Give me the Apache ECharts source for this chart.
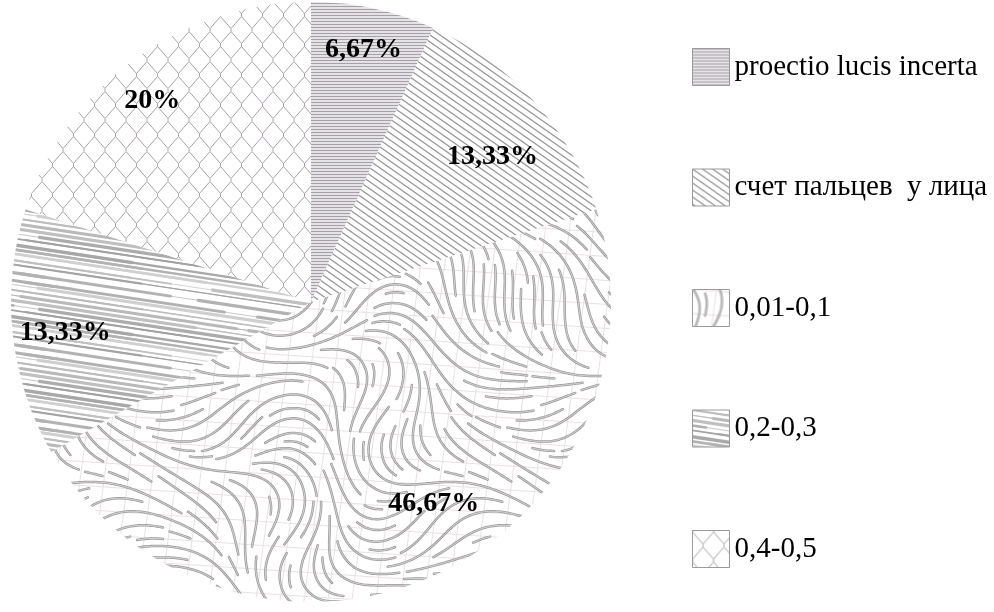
<!DOCTYPE html>
<html>
<head>
<meta charset="utf-8">
<script src="https://cdn.jsdelivr.net/npm/echarts@6/dist/echarts.min.js"></script>
<style>
  html, body { margin: 0; padding: 0; background: #fff; }
  #chart { width: 994px; height: 612px; }
</style>
</head>
<body>
<div id="chart"></div>
<script>
// Categories and their shares (percent)
const categories = ['proectio lucis incerta', 'счет пальцев  у лица', '0,01-0,1', '0,2-0,3', '0,4-0,5'];
const shares = [6.67, 13.33, 46.67, 13.33, 20];

const SERIF = '"Liberation Serif", "Times New Roman", "DejaVu Serif", serif';

// ---------- fill textures ----------
function makeCanvas(w, h) {
  const c = document.createElement('canvas');
  c.width = w; c.height = h;
  return c;
}
// deterministic hash in [0,1) used for texture variation
function hash(i) {
  const s = Math.sin(i * 12.9898 + 78.233) * 43758.5453;
  return s - Math.floor(s);
}

// fine horizontal ruling
function texHorizontal() {
  const c = makeCanvas(6, 3), g = c.getContext('2d');
  g.fillStyle = '#e6e3e7'; g.fillRect(0, 0, 6, 3);
  g.fillStyle = '#a6a1a8'; g.fillRect(0, 0, 6, 1);
  return c;
}

// diagonal hatching running down to the right
function texDiagonal() {
  const W = 20, H = 14, c = makeCanvas(W, H), g = c.getContext('2d');
  g.fillStyle = '#fff'; g.fillRect(0, 0, W, H);
  g.strokeStyle = '#979797'; g.lineWidth = 1.3;
  for (let o = -2 * W; o <= 2 * W; o += W / 2) {
    g.beginPath(); g.moveTo(o - W, -H); g.lineTo(o + 2 * W, 2 * H); g.stroke();
  }
  return c;
}

// swirling double-edged strokes over a faint grid
function texFlow() {
  const W = 360, H = 360, c = makeCanvas(W, H), g = c.getContext('2d');
  g.fillStyle = '#fff'; g.fillRect(0, 0, W, H);
  g.strokeStyle = '#e6dde2'; g.lineWidth = 0.9;
  for (let k = -16; k <= 32; k++) {
    g.beginPath(); g.moveTo(0, k * 24); g.lineTo(W, k * 24 + 24); g.stroke();
    g.beginPath(); g.moveTo(k * 24, 0); g.lineTo(k * 24 - 48, H); g.stroke();
  }
  const TAU = Math.PI * 2;
  const ang = (x, y) => 0.55
    + 0.85 * Math.sin(TAU * (x / W + y / H))
    + 0.55 * Math.cos(TAU * (x / W - 2 * y / H) + 1.3)
    + 0.35 * Math.sin(TAU * (2 * x / W + y / H) + 0.4);
  const cell = 4, gw = W / cell, gh = H / cell;
  const occ = new Int32Array(gw * gh).fill(-1);
  const idx = (x, y) => {
    const cx = ((Math.floor(x / cell) % gw) + gw) % gw;
    const cy = ((Math.floor(y / cell) % gh) + gh) % gh;
    return cy * gw + cx;
  };
  const free = (x, y) => {
    for (let dx = -1; dx <= 1; dx++) for (let dy = -1; dy <= 1; dy++) {
      if (occ[idx(x + dx * cell, y + dy * cell)] !== -1) return false;
    }
    return true;
  };
  const lines = [];
  for (let s = 0; s < 9000; s++) {
    const x0 = hash(s * 2 + 5) * W, y0 = hash(s * 2 + 6) * H;
    if (!free(x0, y0)) continue;
    const maxSteps = 20 + Math.floor(hash(s * 7 + 11) * 50);
    const trace = (dir) => {
      const pts = [];
      let x = x0, y = y0;
      for (let n = 0; n < maxSteps; n++) {
        const a = ang(x, y);
        x += dir * 2 * Math.cos(a); y += dir * 2 * Math.sin(a);
        if (!free(x, y)) break;
        pts.push([x, y]);
      }
      return pts;
    };
    const fwd = trace(1), back = trace(-1).reverse();
    const pts = back.concat([[x0, y0]], fwd);
    if (pts.length < 10) continue;
    const id = lines.length;
    pts.forEach(p => { occ[idx(p[0], p[1])] = id; });
    lines.push(pts);
  }
  g.lineCap = 'round'; g.lineJoin = 'round';
  const drawAll = (color, width) => {
    g.strokeStyle = color; g.lineWidth = width;
    for (const ox of [-W, 0, W]) for (const oy of [-H, 0, H]) {
      for (const pts of lines) {
        g.beginPath();
        g.moveTo(pts[0][0] + ox, pts[0][1] + oy);
        for (let i = 1; i < pts.length; i++) g.lineTo(pts[i][0] + ox, pts[i][1] + oy);
        g.stroke();
      }
    }
  };
  drawAll('#9a9a9a', 2.5);
  drawAll('#eeeeee', 0.7);
  return c;
}

// long, slightly falling brush streaks
function texStreaks() {
  const W = 480, H = 72, c = makeCanvas(W, H), g = c.getContext('2d');
  g.fillStyle = '#fff'; g.fillRect(0, 0, W, H);
  const slope = H / W;
  g.lineCap = 'round';
  let y = 0, i = 0;
  while (y < H - 2) {
    const shade = Math.round(160 + 50 * hash(i * 5 + 2));
    g.strokeStyle = `rgb(${shade},${shade},${shade})`;
    g.lineWidth = 0.7;
    for (const oy of [-H, 0, H]) {
      g.beginPath(); g.moveTo(-W, y + oy - H); g.lineTo(2 * W, y + oy + 2 * H); g.stroke();
    }
    let x = hash(i * 5 + 3) * 40;
    let k = 0;
    while (x < W) {
      const len = 120 + hash(i * 31 + k * 7 + 1) * 260;
      const w = 0.7 + hash(i * 17 + k * 3 + 4) * 2.8;
      g.lineWidth = w;
      for (const ox of [-W, 0, W]) for (const oy of [-H, 0, H]) {
        g.beginPath();
        g.moveTo(x + ox, y + oy + x * slope);
        g.lineTo(x + len + ox, y + oy + (x + len) * slope);
        g.stroke();
      }
      x += len + 10 + hash(i * 13 + k * 5 + 9) * 50;
      k++;
    }
    y += 4 + 4.5 * hash(i * 5 + 3.5);
    i++;
  }
  return c;
}

// chain-link lattice
function texLattice() {
  const W = 21, H = 30, s = 1.5, c = makeCanvas(W, H), g = c.getContext('2d');
  g.fillStyle = '#fff'; g.fillRect(0, 0, W, H);
  g.strokeStyle = '#a9a0aa'; g.lineWidth = 1;
  const path = (pts) => {
    g.beginPath(); g.moveTo(pts[0][0], pts[0][1]);
    for (let i = 1; i < pts.length; i++) g.lineTo(pts[i][0], pts[i][1]);
    g.stroke();
  };
  for (const dy of [-H, 0, H]) {
    path([[0, dy - s], [0, dy + s], [W / 2, dy + H / 2 - s], [W / 2, dy + H / 2 + s], [0, dy + H - s]]);
    path([[W, dy - s], [W, dy + s], [W / 2, dy + H / 2 - s], [W / 2, dy + H / 2 + s], [W, dy + H - s]]);
  }
  return c;
}

const textures = [texHorizontal(), texDiagonal(), texFlow(), texStreaks(), texLattice()];

// small nudges for the percentage labels inside each slice
const labelNudge = [[2, -15], [1, 17], [24, -20], [-4, 5], [-16, -5]];

const chart = echarts.init(document.getElementById('chart'), null, { renderer: 'canvas' });

const legendText = { fontFamily: SERIF, fontSize: 29, color: '#000', fontWeight: 'normal' };

const option = {
  animation: false,
  backgroundColor: '#fff',
  textStyle: { fontFamily: SERIF },
  legend: {
    orient: 'vertical',
    left: 687,
    top: 43,
    itemWidth: 37,
    itemHeight: 37,
    itemGap: 82.5,
    icon: 'rect',
    selectedMode: false,
    data: categories,
    itemStyle: { borderColor: '#9a9a9a', borderWidth: 1 },
    formatter: (name) => '{t|' + name + '}',
    textStyle: Object.assign({ rich: { t: legendText } }, legendText)
  },
  series: [
    {
      type: 'pie',
      center: [311, 302],
      radius: [0, 300],
      startAngle: 90,
      clockwise: true,
      silent: true,
      avoidLabelOverlap: false,
      label: { show: false },
      labelLine: { show: false },
      emphasis: { disabled: true },
      itemStyle: { borderWidth: 0 },
      data: categories.map((name, i) => ({
        name,
        value: shares[i],
        itemStyle: { color: { image: textures[i], repeat: 'repeat' } }
      }))
    },
    {
      type: 'pie',
      center: [311, 302],
      radius: [180, 300],
      startAngle: 90,
      clockwise: true,
      silent: true,
      legendHoverLink: false,
      avoidLabelOverlap: false,
      emphasis: { disabled: true },
      itemStyle: { color: 'rgba(0,0,0,0)', borderWidth: 0 },
      labelLine: { show: false },
      label: {
        show: true,
        position: 'inside',
        fontFamily: SERIF,
        fontWeight: 'bold',
        fontSize: 28,
        color: '#000',
        formatter: (p) => String(p.value).replace('.', ',') + '%'
      },
      data: categories.map((name, i) => ({
        name,
        value: shares[i],
        label: { offset: labelNudge[i] }
      }))
    }
  ]
};

chart.setOption(option);
</script>
</body>
</html>
